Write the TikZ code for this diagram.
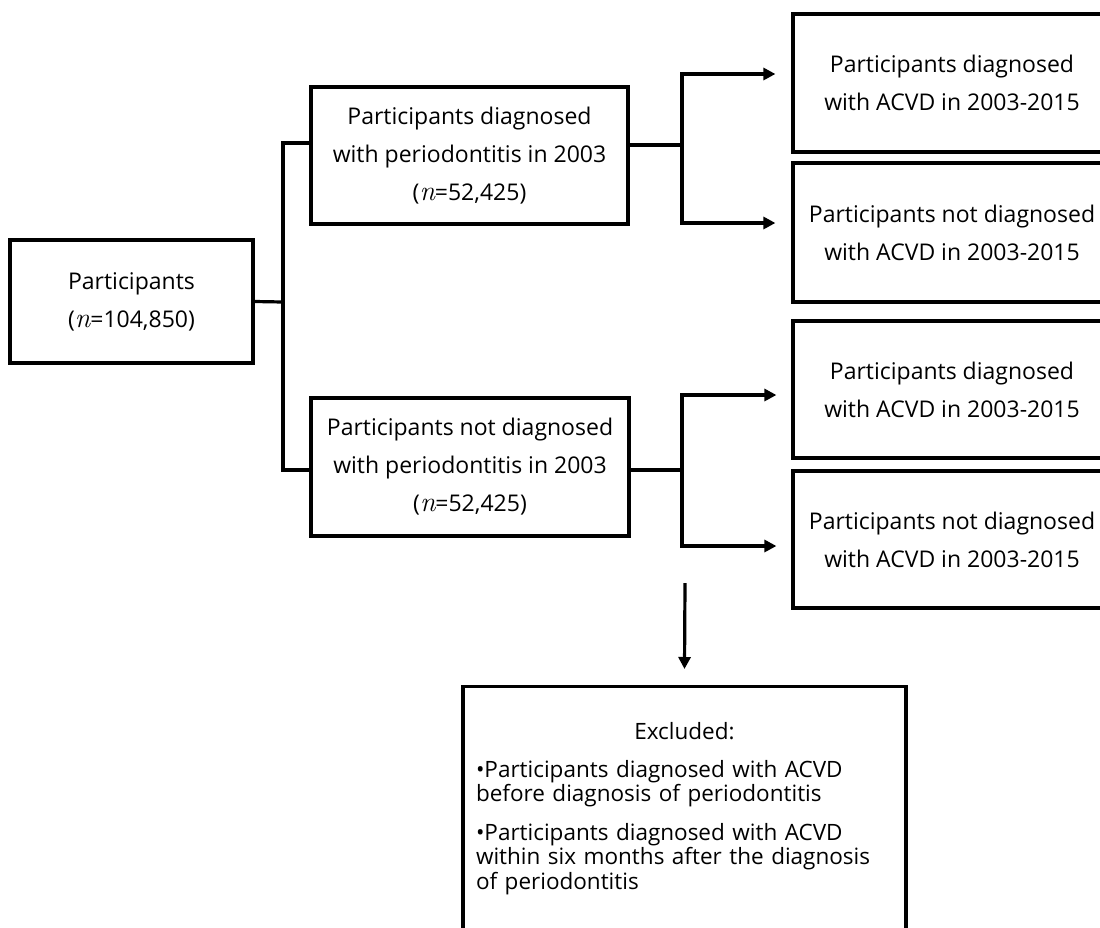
\documentclass[tikz,border=0pt]{standalone}
\usepackage{fontspec}
\setmainfont{Open Sans}
\newfontfamily\nfont{Latin Modern Roman}
\usetikzlibrary{arrows.meta}

\newcommand{\nn}{{\nfont\itshape\fontsize{28}{38}\selectfont n}}

\tikzset{
  flowbox/.style={draw, line width=3.2pt, align=center, inner sep=0pt,
    minimum width=318pt, font=\fontsize{23}{38}\selectfont},
  exclbox/.style={draw, line width=3.2pt, align=left, text width=417pt,
    inner xsep=13pt, inner ysep=36pt, font=\fontsize{22.5}{24.5}\selectfont},
  flowline/.style={line width=3.2pt},
  flowarrow/.style={line width=3.2pt, -{Triangle[length=12pt,width=12pt]}}
}

\begin{document}
\begin{tikzpicture}[x=1pt, y=-1pt]
    \useasboundingbox (0,0) rectangle (1100,927);
    \clip (0,0) rectangle (1100,927);

    % all participants
    \node [flowbox, minimum width=243pt, minimum height=123pt] (particip) at (131.5,301.5)
        {Participants\\(\nn=104,850)};

    % periodontitis groups
    \node [flowbox, minimum width=317pt, minimum height=137pt] (perio) at (469.5,155.5)
        {Participants diagnosed\\with periodontitis in 2003\\(\nn=52,425)};
    \node [flowbox, minimum height=138pt] (noperio) at (470,467)
        {Participants not diagnosed\\with periodontitis in 2003\\(\nn=52,425)};

    % ACVD outcome
    \node [flowbox, minimum height=138pt] (acvdA) at (952,83)
        {Participants diagnosed\\with ACVD in 2003-2015};
    \node [flowbox, minimum height=139pt] (noacvdA) at (952,232.5)
        {Participants not diagnosed\\with ACVD in 2003-2015};
    \node [flowbox, minimum height=137pt] (acvdB) at (952,389.5)
        {Participants diagnosed\\with ACVD in 2003-2015};
    \node [flowbox, minimum height=137pt] (noacvdB) at (952,539.5)
        {Participants not diagnosed\\with ACVD in 2003-2015};

    % exclusions
    \node [exclbox, anchor=north] (excl) at (684.5,685)
        {\makebox[\linewidth][c]{Excluded:}\\[13pt]
         \textbullet Participants diagnosed with ACVD\\
         before diagnosis of periodontitis\\[14pt]
         \textbullet Participants diagnosed with ACVD\\
         within six months after the diagnosis\\
         of periodontitis};

    % split of all participants
    \coordinate (jroot) at (283,302);
    \draw [flowline] (particip.east) -- (jroot);
    \draw [flowline] ([yshift=12.5pt]perio.west) -| (jroot) |- ([yshift=-3pt]noperio.west);

    % split of periodontitis group
    \coordinate (jperio) at (682,145);
    \draw [flowline] ([yshift=10.5pt]perio.east) -- (jperio);
    \draw [flowarrow] (jperio) |- ([xshift=-16pt,yshift=9pt]acvdA.west);
    \draw [flowarrow] (jperio) |- ([xshift=-16pt,yshift=9.5pt]noacvdA.west);

    % split of non-periodontitis group
    \coordinate (jnoperio) at (682,470);
    \draw [flowline] ([yshift=-3pt]noperio.east) -- (jnoperio);
    \draw [flowarrow] (jnoperio) |- ([xshift=-15pt,yshift=-5.5pt]acvdB.west);
    \draw [flowarrow] (jnoperio) |- ([xshift=-15pt,yshift=-6.5pt]noacvdB.west);

    % excluded
    \coordinate (exclstart) at (685,583);
    \draw [flowarrow] (exclstart) -- ([yshift=16pt]excl.north);
\end{tikzpicture}
\end{document}
